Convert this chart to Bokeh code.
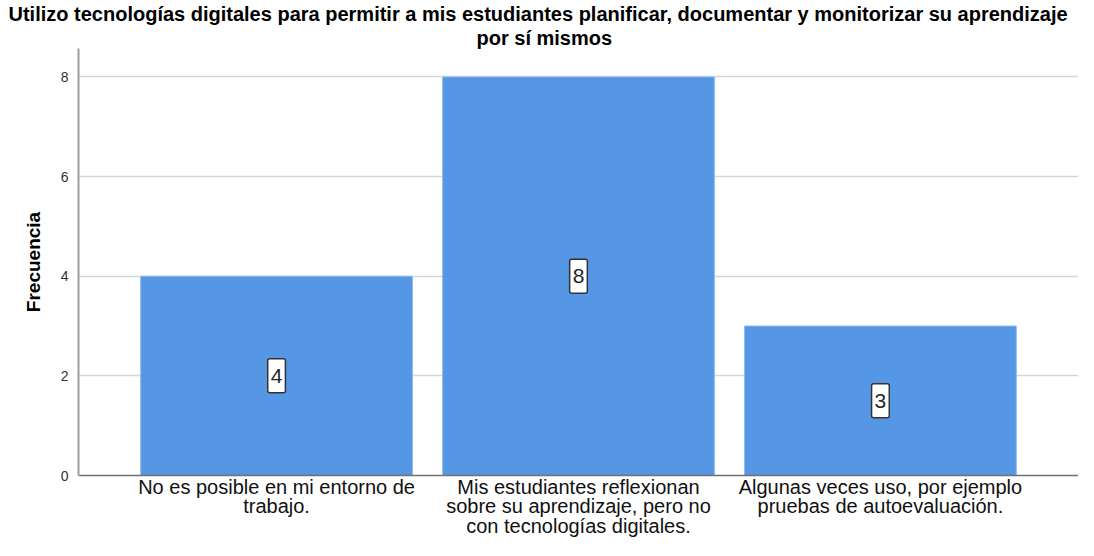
from bokeh.plotting import figure
from bokeh.models import ColumnDataSource, FactorRange, Range1d, Title
from bokeh.core.properties import value
from bokeh.embed import file_html
from bokeh.resources import INLINE

categories = [
    "No es posible en mi entorno de\ntrabajo.",
    "Mis estudiantes reflexionan\nsobre su aprendizaje, pero no\ncon tecnologías digitales.",
    "Algunas veces uso, por ejemplo\npruebas de autoevaluación.",
]
frecuencias = [4, 8, 3]
y_ticks = [0, 2, 4, 6, 8]
title_lines = [
    "Utilizo tecnologías digitales para permitir a mis estudiantes planificar, documentar y monitorizar su aprendizaje",
    "por sí mismos",
]

FONT = "Liberation Sans"

src = ColumnDataSource(dict(
    cat=categories,
    val=frecuencias,
    mid=[v / 2 for v in frecuencias],
    lab=[str(v) for v in frecuencias],
))

p = figure(
    width=1078, height=540,
    x_range=FactorRange(*categories, range_padding=0.104),
    y_range=Range1d(0, 8.571),
    output_backend="svg", toolbar_location=None,
    min_border_left=78, min_border_right=0, min_border_top=39, min_border_bottom=56,
)
p.title = None
p.outline_line_color = None

# title lines (second line added first so the first line sits on top)
p.add_layout(Title(
    text=title_lines[1], align="left", text_font=FONT, text_font_size="20px",
    text_font_style="bold", text_color="#000000", offset=398, standoff=0,
    text_line_height=1.0,
), "above")
p.add_layout(Title(
    text=title_lines[0], align="left", text_font=FONT, text_font_size="20px",
    text_font_style="bold", text_color="#000000", offset=-70, standoff=0,
    text_line_height=1.0,
), "above")

p.vbar(x="cat", top="val", width=0.9, source=src,
       fill_color="#5596e5", line_color="#8fb9ef", line_width=1)

p.text(x="cat", y="mid", text="lab", source=src,
       text_font=value(FONT), text_font_size="21px", text_color="#262626",
       text_align="center", text_baseline="middle",
       background_fill_color="#ffffff", border_line_color="#333333",
       border_line_width=1.5, padding=(3, 10), border_radius=2)

p.xgrid.grid_line_color = None
p.ygrid.grid_line_color = "#d6d6d6"
p.ygrid.grid_line_width = 1.5
p.ygrid.ticker = y_ticks

p.yaxis.ticker = y_ticks
p.yaxis.axis_label = "Frecuencia"
p.yaxis.axis_label_text_font = FONT
p.yaxis.axis_label_text_font_size = "19px"
p.yaxis.axis_label_text_font_style = "bold"
p.yaxis.axis_label_text_color = "#000000"
p.yaxis.axis_label_standoff = 14
p.yaxis.major_label_text_font = FONT
p.yaxis.major_label_text_font_size = "14px"
p.yaxis.major_label_text_color = "#333333"
p.yaxis.axis_line_color = "#a0a0a0"
p.yaxis.axis_line_width = 2
p.yaxis.major_tick_line_color = None
p.yaxis.minor_tick_line_color = None
p.yaxis.major_tick_out = 0
p.yaxis.major_tick_in = 0
p.yaxis.major_label_standoff = 10

p.xaxis.axis_line_color = "#707070"
p.xaxis.axis_line_width = 1.5
p.xaxis.major_tick_line_color = None
p.xaxis.minor_tick_line_color = None
p.xaxis.major_tick_out = 0
p.xaxis.major_tick_in = 0
p.xaxis.major_label_text_font = FONT
p.xaxis.major_label_text_font_size = "20px"
p.xaxis.major_label_text_line_height = 0.9
p.xaxis.major_label_text_color = "#111111"
p.xaxis.major_label_standoff = 0
p.xaxis.major_label_orientation = "horizontal"

open("out.html", "w").write(file_html(p, INLINE))
